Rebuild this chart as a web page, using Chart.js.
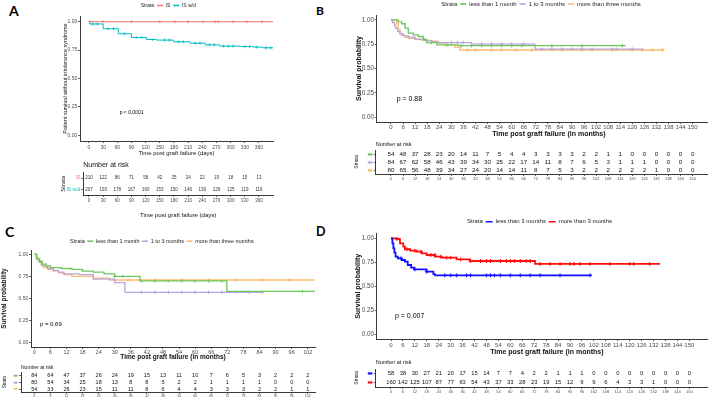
<!DOCTYPE html>
<html><head><meta charset="utf-8">
<script src="https://cdn.jsdelivr.net/npm/chart.js@4"></script>
<style>
html,body{margin:0;padding:0;background:#fff;width:708px;height:400px;overflow:hidden;position:relative;}
canvas{position:absolute;}
.lab{position:absolute;font-family:Lato,'Liberation Sans',sans-serif;font-weight:bold;color:#000;line-height:1;}
</style></head><body>
<div class="lab" style="left:9px;top:4px;font-size:14px">A</div>
<div class="lab" style="left:316px;top:5px;font-size:12px">B</div>
<div class="lab" style="left:5px;top:225px;font-size:14px">C</div>
<div class="lab" style="left:316px;top:226px;font-size:12.5px">D</div>
<script>
// ---------------- Panel A (days) ----------------
const A_ticks = [0,30,60,90,120,150,180,210,240,270,300,330,360];
const A_strata = ['IS', 'IS w/d'];
const A_IS_time = [0, 390];
const A_IS_surv = [1, 1];
const A_IS_cens = [2, 30, 90, 150, 182, 210, 242, 267, 274, 305, 334, 366];
const A_ISwd_time = [0, 1, 30, 62, 90, 122, 143, 179, 214, 246, 277, 320, 348, 369, 390];
const A_ISwd_surv = [1, 0.98, 0.938, 0.894, 0.861, 0.843, 0.838, 0.823, 0.811, 0.796, 0.785, 0.781, 0.776, 0.77, 0.77];
const A_ISwd_cens = [8, 18, 40, 52, 75, 100, 112, 135, 160, 170, 190, 200, 225, 235, 255, 265, 285, 295, 305, 330, 340, 355, 375, 385];
const A_risk_IS = [210,122,86,71,58,42,35,24,22,19,18,15,13];
const A_risk_ISwd = [207,193,178,167,160,153,150,146,139,129,125,119,116];

// ---------------- Panel B (months) ----------------
const B_ticks = [0,6,12,18,24,30,36,42,48,54,60,66,72,78,84,90,96,102,108,114,120,126,132,138,144,150];
const B_strata = ['less than 1 month', '1 to 3 months', 'more than three months'];
const B_lt1_time = [0, 3.6, 5.3, 7.0, 8.6, 11.1, 13.6, 16.1, 17.7, 22.7, 33.5, 116.7];
const B_lt1_surv = [1, 0.979, 0.96, 0.915, 0.863, 0.846, 0.829, 0.80, 0.767, 0.743, 0.735, 0.735];
const B_lt1_cens = [20, 28, 35, 40, 45, 50, 55, 60, 65, 80, 95, 115];
const B_1to3_time = [0, 0.7, 1.7, 2.3, 3.3, 4.5, 6.1, 8.6, 11.9, 16.9, 20.2, 23.5, 40.1, 71.6, 125.5];
const B_1to3_surv = [1, 0.973, 0.942, 0.914, 0.88, 0.856, 0.836, 0.822, 0.801, 0.787, 0.774, 0.767, 0.75, 0.699, 0.699];
const B_1to3_cens = [30, 33, 36, 45, 50, 55, 60, 66, 75, 80, 85, 90, 95, 100, 110, 112, 120];
const B_gt3_time = [0, 2.8, 3.6, 4.5, 5.3, 7.0, 8.6, 11.9, 15.2, 20.2, 23.5, 26.9, 31.8, 34.3, 135.9];
const B_gt3_surv = [1, 0.96, 0.90, 0.86, 0.84, 0.82, 0.81, 0.80, 0.79, 0.78, 0.76, 0.74, 0.72, 0.69, 0.69];
const B_gt3_cens = [38, 42, 50, 55, 62, 70, 85, 95, 100, 110, 120, 125, 130, 135];
const B_risk_lt1 = [54,48,37,28,23,20,14,11,7,5,4,4,3,3,3,3,2,2,1,1,0,0,0,0,0,0];
const B_risk_1to3 = [84,67,62,58,46,43,39,34,30,25,22,17,14,11,8,7,6,5,3,1,1,1,0,0,0,0];
const B_risk_gt3 = [80,65,56,48,39,34,27,24,20,14,14,11,8,7,5,3,2,2,2,2,2,2,1,0,0,0];

// ---------------- Panel C (months) ----------------
const C_ticks = [0,6,12,18,24,30,36,42,48,54,60,66,72,78,84,90,96,102];
const C_strata = ['less than 1 month', '1 to 3 months', 'more than three months'];
const C_lt1_time = [0, 0.8, 1.8, 3, 4.5, 6, 10, 14, 18, 22, 26, 30, 39.4, 71.8, 104.7];
const C_lt1_surv = [1, 0.95, 0.92, 0.89, 0.87, 0.85, 0.84, 0.83, 0.81, 0.80, 0.78, 0.75, 0.70, 0.58, 0.58];
const C_lt1_cens = [30, 33, 40, 45, 50, 55, 60, 65, 70, 100];
const C_1to3_time = [0, 1, 2, 3, 5, 7, 9, 11, 17, 22, 30, 33.8, 85.4];
const C_1to3_surv = [1, 0.95, 0.91, 0.87, 0.84, 0.82, 0.80, 0.78, 0.77, 0.72, 0.68, 0.57, 0.57];
const C_1to3_cens = [40, 45, 50, 55, 60, 65, 70, 75, 80, 85];
const C_gt3_time = [0, 0.8, 1.5, 2.5, 3.5, 5, 7, 9, 11, 14, 22, 28, 104.7];
const C_gt3_surv = [1, 0.96, 0.92, 0.88, 0.85, 0.83, 0.81, 0.79, 0.77, 0.75, 0.73, 0.71, 0.71];
const C_gt3_cens = [35, 45, 55, 65, 75, 85, 95];
const C_risk_lt1 = [84,64,47,37,26,24,19,15,13,11,10,7,6,5,3,2,2,2];
const C_risk_1to3 = [80,54,34,25,18,13,8,8,5,2,2,1,1,1,1,0,0,0];
const C_risk_gt3 = [54,33,26,23,15,11,11,8,6,4,4,3,3,3,2,2,1,1];

// ---------------- Panel D (months) ----------------
const D_ticks = [0,6,12,18,24,30,36,42,48,54,60,66,72,78,84,90,96,102,108,114,120,126,132,138,144,150];
const D_strata = ['less than 3 months', 'more than 3 months'];
const D_lt3_time = [0, 0.7, 1.2, 1.7, 2.3, 3.4, 5.4, 7.0, 8.4, 10.1, 11.7, 17.9, 21.3, 22.1, 100.9];
const D_lt3_surv = [1, 0.948, 0.896, 0.85, 0.809, 0.792, 0.774, 0.757, 0.722, 0.694, 0.677, 0.653, 0.628, 0.615, 0.615];
const D_lt3_cens = [5, 12, 18, 27, 30, 33, 38, 40, 48, 50, 52, 55, 60, 65, 70, 75, 85, 100];
const D_gt3_time = [0, 2.8, 4.5, 6.2, 7.0, 9.6, 12.9, 15.4, 17.9, 22.1, 25.5, 33, 39.7, 72.4, 135.2];
const D_gt3_surv = [1, 0.993, 0.948, 0.913, 0.886, 0.872, 0.861, 0.844, 0.826, 0.809, 0.799, 0.781, 0.764, 0.733, 0.733];
const D_gt3_cens = [3, 8, 12, 15, 20, 22, 25, 28, 30, 35, 40, 45, 48, 50, 55, 58, 60, 62, 65, 68, 70, 75, 80, 85, 90, 92, 95, 100, 110, 120, 122, 130];
const D_risk_lt3 = [58,38,30,27,21,20,17,15,14,7,7,4,2,2,1,1,1,0,0,0,0,0,0,0,0,0];
const D_risk_gt3 = [160,142,125,107,87,77,63,54,43,37,33,28,23,19,15,12,9,9,6,4,3,3,1,0,0,0];

const Y_TICKS = [0, 0.25, 0.5, 0.75, 1];

// ---------------- helpers ----------------
const FONT = "'Liberation Sans', Arial, Helvetica, sans-serif";
const AX = '#3a3a3a';
const TXT = '#4d4d4d';

function survAt(times, surv, t) {
  let v = surv[0];
  for (let i = 0; i < times.length; i++) if (times[i] <= t) v = surv[i];
  return v;
}
function makeCanvas(p) {
  const c = document.createElement('canvas');
  c.width = p.R - p.L; c.height = p.B - p.T;
  c.style.left = p.L + 'px'; c.style.top = p.T + 'px';
  c.style.width = (p.R - p.L) + 'px'; c.style.height = (p.B - p.T) + 'px';
  document.body.appendChild(c);
  return c;
}
function xScale(o) {
  return {
    type: 'linear', min: o.min, max: o.max,
    afterBuildTicks: sc => { sc.ticks = o.ticks.map(v => ({value: v})); },
    afterFit: sc => { sc.height = o.h; },
    border: {display: true, color: AX, width: 1},
    grid: {display: true, drawOnChartArea: false, drawTicks: true, tickLength: o.tl, tickColor: AX, tickWidth: 0.8},
    ticks: {autoSkip: false, maxRotation: 0, minRotation: 0, padding: o.pad, color: TXT,
            font: {family: FONT, size: o.fs}, callback: v => String(v)},
    title: o.title ? {display: true, text: o.title, color: '#111',
            font: {family: FONT, size: o.tfs, weight: o.bold ? 'bold' : 'normal'},
            padding: {top: 0, bottom: o.tpad}} : {display: false}
  };
}
function yScale(o) {
  return {
    type: 'linear', min: o.min, max: o.max, reverse: !!o.reverse,
    afterBuildTicks: sc => { sc.ticks = o.ticks.map(v => ({value: v})); },
    afterFit: sc => { sc.width = o.w; },
    border: {display: true, color: AX, width: 1},
    grid: {display: true, drawOnChartArea: false, drawTicks: true, tickLength: o.tl, tickColor: AX, tickWidth: 0.8},
    ticks: {autoSkip: false, padding: o.pad, color: o.tcolor || TXT,
            font: {family: o.tfamily || FONT, size: o.fs}, callback: o.cb},
    title: {display: true, text: o.title, color: '#111',
            font: {family: FONT, size: o.tfs, weight: o.bold ? 'bold' : 'normal'},
            padding: {top: o.tpad, bottom: 0}}
  };
}
function legendOpts(series, o) {
  return {
    display: true, position: 'top', maxHeight: o.maxH,
    labels: {
      boxWidth: o.bw, boxHeight: 1.6, padding: o.lp, color: '#222',
      font: {family: FONT, size: o.fs},
      generateLabels: () => [{text: 'Strata', fillStyle: 'rgba(0,0,0,0)', strokeStyle: 'rgba(0,0,0,0)', lineWidth: 0, hidden: false, fontColor: '#222'}]
        .concat(series.map(s => ({text: s.name, fillStyle: s.color, strokeStyle: s.color, lineWidth: 0, hidden: false, fontColor: '#222'})))
    }
  };
}
function textPlugin(items) {
  return {
    id: 'ptext',
    afterDatasetsDraw(chart) {
      const ctx = chart.ctx;
      ctx.save();
      items.forEach(it => {
        ctx.font = (it.bold ? 'bold ' : '') + it.fs + 'px ' + FONT;
        ctx.fillStyle = it.color || '#000';
        ctx.textAlign = 'left'; ctx.textBaseline = 'middle';
        ctx.fillText(it.text, chart.scales.x.getPixelForValue(it.x), chart.scales.y.getPixelForValue(it.y));
      });
      ctx.restore();
    }
  };
}
function kmChart(p, series, o) {
  const c = makeCanvas(p);
  const ds = [];
  series.forEach(s => ds.push({
    label: s.name, data: s.time.map((t, i) => ({x: t, y: s.surv[i]})),
    borderColor: s.color, backgroundColor: s.color, borderWidth: o.lw,
    stepped: true, pointRadius: 0, fill: false
  }));
  series.forEach(s => ds.push({
    label: s.name + ' (censored)', type: 'scatter',
    data: s.cens.map(t => ({x: t, y: survAt(s.time, s.surv, t)})),
    borderColor: s.color, backgroundColor: s.color, pointStyle: 'cross',
    pointRadius: o.cr, pointBorderWidth: o.cw || 1, showLine: false
  }));
  new Chart(c, {
    type: 'line',
    data: {datasets: ds},
    options: {
      responsive: false, animation: false, events: [], devicePixelRatio: 1,
      layout: {padding: {left: 0, top: 0, right: p.R - p.r, bottom: 0}},
      plugins: {legend: legendOpts(series, o.legend), tooltip: {enabled: false}, title: {display: false}},
      scales: {
        x: xScale(Object.assign({h: p.B - p.b}, o.x)),
        y: yScale(Object.assign({w: p.l - p.L, min: -0.05, max: 1.05, ticks: Y_TICKS, cb: v => v.toFixed(2)}, o.y))
      }
    },
    plugins: [textPlugin(o.texts)]
  });
}
function riskChart(p, rows, labels, colors, ticks, o) {
  const c = makeCanvas(p);
  const pts = [];
  rows.forEach((row, r) => row.forEach((v, i) => pts.push({x: ticks[i], y: r})));
  const plug = {
    id: 'risknums',
    afterDatasetsDraw(chart) {
      const ctx = chart.ctx, xs = chart.scales.x, ys = chart.scales.y;
      ctx.save();
      ctx.font = (o.nbold ? 'bold ' : '') + o.nfs + 'px ' + FONT;
      ctx.fillStyle = o.ncolor; ctx.textAlign = 'center'; ctx.textBaseline = 'middle';
      rows.forEach((row, r) => row.forEach((v, i) => ctx.fillText(String(v), xs.getPixelForValue(ticks[i]), ys.getPixelForValue(r))));
      ctx.restore();
    }
  };
  const idx = rows.map((r, i) => i);
  new Chart(c, {
    type: 'scatter',
    data: {datasets: [{label: 'at risk', data: pts, pointRadius: 0, showLine: false}]},
    options: {
      responsive: false, animation: false, events: [], devicePixelRatio: 1,
      layout: {padding: {left: 0, top: 0, right: p.R - p.r, bottom: 0}},
      plugins: {
        legend: {display: false}, tooltip: {enabled: false},
        title: {display: true, text: 'Number at risk', align: 'start', fullSize: false, color: '#111',
                font: {family: FONT, size: o.title.fs, weight: 'normal'},
                padding: {top: o.title.pt, bottom: o.title.pb}}
      },
      scales: {
        x: xScale(Object.assign({h: p.B - p.b, ticks: ticks}, o.x)),
        y: yScale(Object.assign({w: p.l - p.L, min: -0.5, max: rows.length - 0.5, reverse: true, ticks: idx,
              cb: (v) => labels[v], tcolor: (ctx) => colors[ctx.index]}, o.y))
      }
    },
    plugins: [plug]
  });
}

// ---------------- colours ----------------
const COL_A = ['#F8766D', '#00BFC4'];
const COL_BC = ['#6DC65E', '#B9A4DE', '#FDBA72'];
const COL_D = ['#1010FF', '#FF1010'];

// ---------------- Panel A ----------------
kmChart({L: 55, T: 0, R: 288, B: 159, l: 80, t: 16, r: 273, b: 141},
  [{name: A_strata[0], time: A_IS_time, surv: A_IS_surv, cens: A_IS_cens, color: COL_A[0]},
   {name: A_strata[1], time: A_ISwd_time, surv: A_ISwd_surv, cens: A_ISwd_cens, color: COL_A[1]}],
  {lw: 1, cr: 1.6, cw: 0.7,
   legend: {maxH: 16, fs: 5, lp: 3, bw: 6},
   x: {min: -19.06, max: 389.7, ticks: A_ticks, fs: 5, tl: 2, pad: 1.2, title: 'Time post graft failure (days)', tfs: 6, tpad: 2.4},
   y: {fs: 5, tl: 2, pad: 0.7, title: 'Patient survival without intolerance syndrome', tfs: 5.5, tpad: 6.7},
   texts: [{text: 'p < 0.0001', x: 65, y: 0.2, fs: 5}]});
riskChart({L: 55, T: 158, R: 288, B: 219, l: 83.3, t: 172.4, r: 273, b: 195},
  [A_risk_IS, A_risk_ISwd], A_strata, COL_A, A_ticks,
  {nfs: 4.5, ncolor: '#333', title: {fs: 7, pt: 2.8, pb: 3.2},
   x: {min: -12.07, max: 389.7, fs: 4.5, tl: 2, pad: 0.7, title: 'Time post graft failure (days)', tfs: 6, tpad: 0.4},
   y: {fs: 5, tl: 2, pad: 1, title: 'Strata', tfs: 6, tpad: 4.4}});

// ---------------- Panel B ----------------
kmChart({L: 352, T: -2, R: 730, B: 140, l: 376.7, t: 15, r: 721, b: 122},
  [{name: B_strata[0], time: B_lt1_time, surv: B_lt1_surv, cens: B_lt1_cens, color: COL_BC[0]},
   {name: B_strata[1], time: B_1to3_time, surv: B_1to3_surv, cens: B_1to3_cens, color: COL_BC[1]},
   {name: B_strata[2], time: B_gt3_time, surv: B_gt3_surv, cens: B_gt3_cens, color: COL_BC[2]}],
  {lw: 1.3, cr: 1.8,
   legend: {maxH: 17, fs: 6, lp: 3, bw: 6},
   x: {min: -7.11, max: 164.1, ticks: B_ticks, fs: 6, tl: 2, pad: 0, title: 'Time post graft failure (in months)', tfs: 7, bold: true, tpad: 1.8},
   y: {fs: 6.3, tl: 2, pad: 0.7, title: 'Survival probability', tfs: 7, bold: true, tpad: 2.8},
   texts: [{text: 'p = 0.88', x: 2.8, y: 0.185, fs: 7}]});
riskChart({L: 352, T: 140, R: 730, B: 182, l: 375.7, t: 150, r: 721, b: 174},
  [B_risk_lt1, B_risk_1to3, B_risk_gt3], ['▬', '▬', '▬'], COL_BC, B_ticks,
  {nfs: 6.2, ncolor: '#111', title: {fs: 5.5, pt: 1, pb: 2.4},
   x: {min: -7.6, max: 164.1, fs: 4, tl: 2, pad: 0.3},
   y: {fs: 6, tfamily: "'DejaVu Sans'", tl: 2, pad: 0.7, title: 'Strata', tfs: 5, tpad: 2}});

// ---------------- Panel C ----------------
kmChart({L: 0, T: 236, R: 336, B: 362, l: 31, t: 250, r: 315, b: 347},
  [{name: C_strata[0], time: C_lt1_time, surv: C_lt1_surv, cens: C_lt1_cens, color: COL_BC[0]},
   {name: C_strata[1], time: C_1to3_time, surv: C_1to3_surv, cens: C_1to3_cens, color: COL_BC[1]},
   {name: C_strata[2], time: C_gt3_time, surv: C_gt3_surv, cens: C_gt3_cens, color: COL_BC[2]}],
  {lw: 1.3, cr: 1.6,
   legend: {maxH: 14, fs: 5.5, lp: 2.5, bw: 6},
   x: {min: -1.23, max: 104.7, ticks: C_ticks, fs: 5.5, tl: 2, pad: 0, title: 'Time post graft failure (in months)', tfs: 6.5, bold: true, tpad: 0.8},
   y: {fs: 5, tl: 2, pad: 0.7, title: 'Survival probability', tfs: 6.5, bold: true, tpad: 0.1},
   texts: [{text: 'p = 0.69', x: 2.1, y: 0.204, fs: 6}]});
riskChart({L: 0, T: 363, R: 336, B: 400, l: 21, t: 372.3, r: 315, b: 392.4},
  [C_risk_lt1, C_risk_1to3, C_risk_gt3], ['▬', '▬', '▬'], COL_BC, C_ticks,
  {nfs: 5.5, ncolor: '#111', title: {fs: 5, pt: 1.3, pb: 2},
   x: {min: -4.96, max: 104.7, fs: 3.5, tl: 1.5, pad: 0.35},
   y: {fs: 5, tfamily: "'DejaVu Sans'", tl: 2, pad: 1, title: 'Strata', tfs: 4.5, tpad: 2.3}});

// ---------------- Panel D ----------------
kmChart({L: 352, T: 216, R: 726, B: 358, l: 376.7, t: 233.5, r: 717, b: 339.2},
  [{name: D_strata[0], time: D_lt3_time, surv: D_lt3_surv, cens: D_lt3_cens, color: COL_D[0]},
   {name: D_strata[1], time: D_gt3_time, surv: D_gt3_surv, cens: D_gt3_cens, color: COL_D[1]}],
  {lw: 1.8, cr: 1.9, cw: 1.1,
   legend: {maxH: 17.5, fs: 6, lp: 2.7, bw: 7},
   x: {min: -7.19, max: 163.9, ticks: D_ticks, fs: 6, tl: 2, pad: 0.1, title: 'Time post graft failure (in months)', tfs: 7, bold: true, tpad: 1.5},
   y: {fs: 6.3, tl: 2, pad: 0.7, title: 'Survival probability', tfs: 7, bold: true, tpad: 1.8},
   texts: [{text: 'p = 0.007', x: 2.0, y: 0.19, fs: 7}]});
riskChart({L: 352, T: 358, R: 730, B: 396, l: 375.7, t: 369, r: 721, b: 387},
  [D_risk_lt3, D_risk_gt3], ['▬', '▬'], COL_D, D_ticks,
  {nfs: 5.8, ncolor: '#111', title: {fs: 5.5, pt: 1, pb: 3.4},
   x: {min: -7.69, max: 165.9, fs: 4, tl: 2, pad: 0.7},
   y: {fs: 6, tfamily: "'DejaVu Sans'", tl: 2, pad: 0.7, title: 'Strata', tfs: 5, tpad: 2}});
</script>
</body></html>
